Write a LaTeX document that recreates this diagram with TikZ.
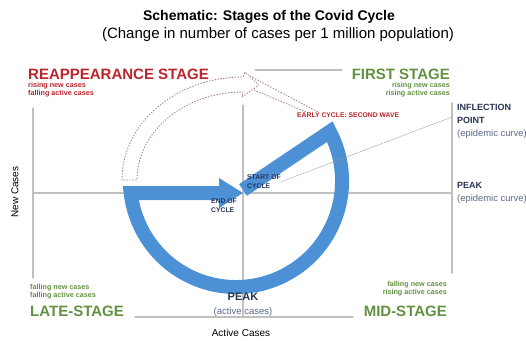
\documentclass[tikz,border=0pt]{standalone}
\usepackage{fontspec}
\setmainfont{Liberation Sans}
\definecolor{axisgray}{RGB}{192,192,192}
\definecolor{dotred}{RGB}{172,128,128}
\definecolor{bandblue}{RGB}{76,144,213}
\definecolor{stagered}{RGB}{186,36,42}
\definecolor{stagegreen}{RGB}{98,145,64}
\definecolor{navy}{RGB}{42,52,84}
\definecolor{softblue}{RGB}{92,104,136}
\begin{document}
\begin{tikzpicture}[line cap=round,line join=round,x=1pt,y=1pt,
  axisline/.style={draw=axisgray,line width=1.2pt},
  dotline/.style={draw=dotred,dotted,line width=0.9pt},
  guide/.style={draw=axisgray!80!black,densely dotted,line width=0.6pt},
  band/.style={draw=bandblue,line width=14pt,line cap=butt,line join=miter},
  stagelbl/.style={font=\bfseries\fontsize{15}{17}\selectfont,inner sep=0pt},
  notelbl/.style={font=\bfseries\fontsize{7.2}{8}\selectfont,inner sep=0pt},
  cyclelbl/.style={font=\bfseries\fontsize{6.8}{8.5}\selectfont,text=navy,inner sep=0pt,align=left},
  sidelbl/.style={font=\bfseries\fontsize{9}{12.8}\selectfont,text=navy,inner sep=0pt,align=left}]

  \useasboundingbox (0,0) rectangle (526,340);
  \clip (0,0) rectangle (526,340);

  % frame and axes
  \draw[axisline] (33,147) -- (452,147);
  \draw[axisline] (243,235) -- (243,22);
  \draw[axisline] (33,232) -- (33,62);
  \draw[axisline] (452,237) -- (452,67);
  \draw[axisline] (255,270) -- (342,270);
  \draw[axisline] (135,23) -- (353,23);

  % second wave (dotted arrow)
  \draw[dotline] (122,160) arc[start angle=180,end angle=90,x radius=121,y radius=103]
    -- (245,268) -- (259,255) -- (242,243) -- (243,248)
    arc[start angle=90,end angle=180,x radius=106,y radius=88] -- cycle;
  \coordinate (dtop) at (250,264);
  \coordinate (dtip) at (254,250);
  \coordinate (etop) at (318,228);
  \coordinate (etip) at (306,228);
  \draw[dotline] (dtop) -- (etop);
  \draw[dotline] (dtip) -- (etip);

  % covid cycle
  \draw[band] (243,150) -- (329.8,208.4)
    arc[start angle=27.8,end angle=-173.5,radius=106] -- (220,147);
  \fill[bandblue] (219,162) -- (243,147) -- (219,132) -- cycle;

  % titles
  \node[font=\bfseries\fontsize{14}{16}\selectfont] (title) at (269,323) {Schematic: Stages of the Covid Cycle};
  \node[font=\fontsize{15}{17}\selectfont] (subtitle) at (278,305) {(Change in number of cases per 1 million population)};

  % stages
  \node[stagelbl,text=stagered,anchor=west] (reap) at (28,266) {REAPPEARANCE STAGE};
  \node[notelbl,text=stagered,anchor=north west,align=left] (reapnote) at (28,257.5) {rising new cases\\falling active cases};
  \node[stagelbl,text=stagegreen,anchor=east] (first) at (450,266) {FIRST STAGE};
  \node[notelbl,text=stagegreen,anchor=north east,align=right] (firstnote) at (450,257.5) {rising new cases\\rising active cases};
  \node[stagelbl,text=stagegreen,anchor=west] (late) at (30,29) {LATE-STAGE};
  \node[notelbl,text=stagegreen,anchor=north west,align=left] (latenote) at (30,56) {falling new cases\\falling active cases};
  \node[stagelbl,text=stagegreen,anchor=east] (mid) at (447,29) {MID-STAGE};
  \node[notelbl,text=stagegreen,anchor=north east,align=right] (midnote) at (447,59) {falling new cases\\rising active cases};
  \node[font=\bfseries\fontsize{6.8}{8}\selectfont,text=stagered,anchor=west,inner sep=0pt] (early) at (297,225) {EARLY CYCLE: SECOND WAVE};

  % cycle points
  \node[cyclelbl,anchor=north west] (startlbl) at (247,165) {START OF\\CYCLE};
  \node[cyclelbl,anchor=north west] (endlbl) at (211,141) {END OF\\CYCLE};
  \node[sidelbl,anchor=north west] (infl) at (457,236) {INFLECTION\\POINT\\\textcolor{softblue}{\mdseries\fontsize{9.4}{12.8}\selectfont(epidemic curve)}};
  \node[sidelbl,anchor=north west] (peakr) at (457,158) {PEAK\\\textcolor{softblue}{\mdseries\fontsize{9.4}{12.8}\selectfont(epidemic curve)}};
  \coordinate (ipt) at (452,223);
  \draw[guide] (startlbl.east) -- (ipt);
  \node[font=\bfseries\fontsize{11}{13}\selectfont,text=navy] (peakb) at (243,43) {PEAK};
  \node[font=\fontsize{9.5}{11}\selectfont,text=softblue] (activeb) at (243,28) {(active cases)};

  % axis titles
  \node[rotate=90,font=\fontsize{10}{12}\selectfont] (ylabel) at (15,148) {New Cases};
  \node[font=\fontsize{10}{12}\selectfont] (xlabel) at (241,7) {Active Cases};
\end{tikzpicture}
\end{document}
